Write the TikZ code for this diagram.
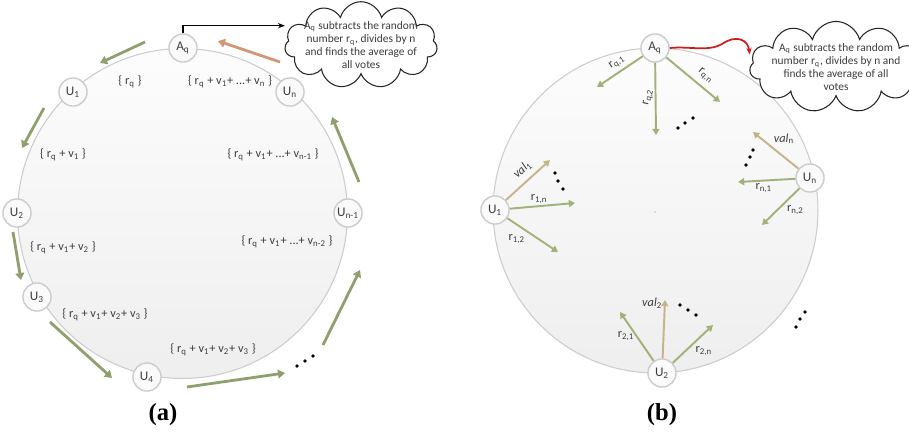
\documentclass[tikz,border=0pt]{standalone}
\usepackage{fontspec}
\setmainfont{Carlito}
\newfontfamily\capfont{Liberation Serif}
\usetikzlibrary{arrows.meta,shapes.symbols}
\definecolor{ringgreen}{RGB}{143,160,110}
\definecolor{sharegreen}{RGB}{160,178,122}
\definecolor{votetan}{RGB}{196,180,138}
\definecolor{backsalmon}{RGB}{212,150,118}
\definecolor{textgray}{RGB}{60,60,60}
\definecolor{wavered}{RGB}{205,30,30}
\tikzset{
  party node/.style={
    circle, draw=gray!40, line width=0.8pt, fill=gray!4,
    text=textgray, minimum size=16pt, inner sep=0pt,
    font=\fontsize{7.5}{8}\selectfont
  },
  ring/.style={draw=gray!40, line width=0.6pt, top color=gray!2, bottom color=gray!13},
  sum label/.style={text=textgray, inner sep=1pt, font=\fontsize{7}{8}\selectfont},
  share label/.style={text=textgray, inner sep=1pt, font=\fontsize{7}{8}\selectfont},
  note cloud/.style={
    cloud, cloud puffs=11, cloud ignores aspect, draw=black!85, line width=0.6pt,
    fill=white, text=textgray, align=center, inner xsep=-3pt, inner ysep=-2pt,
    font=\fontsize{6.5}{7.5}\selectfont
  },
  pass arrow/.style={-{Triangle[length=4pt,width=5pt]}, line width=1.6pt, ringgreen},
  share arrow/.style={-{Triangle[length=3.5pt,width=4pt]}, line width=1.1pt, sharegreen},
  vote arrow/.style={share arrow, votetan},
  fig label/.style={font=\capfont\bfseries\fontsize{14}{16}\selectfont}
}

\begin{document}
\begin{tikzpicture}[x=0.02cm, y=-0.02cm]
  \useasboundingbox (0,0) rectangle (909,433);

  % (a) ring of voters
  \draw[ring] (182.5,213.5) circle[radius=3.3cm];
  \node[party node] (aqa) at (183,48) {A\textsubscript{q}};
  \node[party node] (u1a) at (73,92) {U\textsubscript{1}};
  \node[party node] (u2a) at (17,213) {U\textsubscript{2}};
  \node[party node] (u3a) at (37,297) {U\textsubscript{3}};
  \node[party node] (u4a) at (147,377) {U\textsubscript{4}};
  \node[party node] (unma) at (348,213) {U\textsubscript{n-1}};
  \node[party node] (una) at (290,92) {U\textsubscript{n}};
  \node[note cloud] (clouda) at (361,45)
    {A\textsubscript{q} subtracts the random\\number r\textsubscript{q}, divides by n\\and finds the average of\\all votes};

  \node[sum label] (sum0) at (130,82) {\{ r\textsubscript{q} \}};
  \node[sum label] (sum1) at (63,155) {\{ r\textsubscript{q} + v\textsubscript{1} \}};
  \node[sum label] (sum2) at (63,248) {\{ r\textsubscript{q} + v\textsubscript{1}+ v\textsubscript{2} \}};
  \node[sum label] (sum3) at (105,315) {\{ r\textsubscript{q} + v\textsubscript{1}+ v\textsubscript{2}+ v\textsubscript{3} \}};
  \node[sum label] (sum4) at (213,350) {\{ r\textsubscript{q} + v\textsubscript{1}+ v\textsubscript{2}+ v\textsubscript{3} \}};
  \node[sum label] (sumnm2) at (287,242) {\{ r\textsubscript{q} + v\textsubscript{1}+ ...+ v\textsubscript{n-2} \}};
  \node[sum label] (sumnm1) at (273,155) {\{ r\textsubscript{q} + v\textsubscript{1}+ ...+ v\textsubscript{n-1} \}};
  \node[sum label] (sumn) at (230,82) {\{ r\textsubscript{q} + v\textsubscript{1}+ ...+ v\textsubscript{n} \}};

  \draw[pass arrow] (145,42) -- (100,63);
  \draw[pass arrow] (44,108) -- (22,148);
  \draw[pass arrow] (13,232) -- (21,280);
  \draw[pass arrow] (50,322) -- (112,378);
  \draw[pass arrow] (187,387) -- (285,373);
  \draw[pass arrow] (323,345) -- (360,270);
  \draw[pass arrow] (359,182) -- (332,117);
  \draw[pass arrow, backsalmon] (280,62) -- (218,41);
  \foreach \p in {(297,366),(305,361),(313,356)}
    \fill \p circle (1.1pt);
  \draw[-{Stealth[length=4pt]}, line width=0.7pt] (aqa.north) |- ([yshift=11pt]clouda.west);

  \node[fig label] (capa) at (163,415) {(a)};

  % (b) shares sent to every voter
  \draw[ring] (655.5,210.5) circle[radius=3.25cm];
  \fill[gray!45] (655,212) circle (0.5pt);
  \node[party node] (aqb) at (655,48) {A\textsubscript{q}};
  \node[party node] (u1b) at (495,210) {U\textsubscript{1}};
  \node[party node] (unb) at (810,178) {U\textsubscript{n}};
  \node[party node] (u2b) at (662,373) {U\textsubscript{2}};
  \node[note cloud] (cloudb) at (836,67)
    {A\textsubscript{q} subtracts the random\\number r\textsubscript{q}, divides by n and\\finds the average of all\\votes};

  \draw[share arrow] (aqb) -- node[share label, sloped, above=1pt, pos=.45] {r\textsubscript{q,1}} ++(-58,39);
  \draw[share arrow] (aqb) -- node[share label, rotate=78, anchor=south, pos=.5] {r\textsubscript{q,2}} ++(1,87);
  \draw[share arrow] (aqb) -- node[share label, sloped, above=2pt, pos=.6] {r\textsubscript{q,n}} ++(65,54);

  \draw[vote arrow] (u1b) -- node[share label, sloped, above=2pt, pos=.55] {\textit{val}\textsubscript{1}} ++(55,-50);
  \draw[share arrow] (u1b) -- node[share label, above, pos=.45] {r\textsubscript{1,n}} ++(80,-7);
  \draw[share arrow] (u1b) -- node[share label, below left, pos=.4] {r\textsubscript{1,2}} ++(63,42);

  \draw[vote arrow] (unb) -- node[share label, above right, pos=.6] {\textit{val}\textsubscript{n}} ++(-57,-46);
  \draw[share arrow] (unb) -- node[share label, below, pos=.55] {r\textsubscript{n,1}} ++(-72,4);
  \draw[share arrow] (unb) -- node[share label, below right, pos=.4] {r\textsubscript{n,2}} ++(-48,47);

  \draw[vote arrow] (u2b) -- node[share label, left, pos=.95] {\textit{val}\textsubscript{2}} ++(3,-73);
  \draw[share arrow] (u2b) -- node[share label, left, pos=.5] {r\textsubscript{2,1}} ++(-42,-61);
  \draw[share arrow] (u2b) -- node[share label, below right, pos=.5] {r\textsubscript{2,n}} ++(51,-48);

  \foreach \p in {(678,128),(685,123),(693,118),
                  (555,173),(558,181),(563,189),
                  (753,150),(750,157),(746,165),
                  (680,305),(688,310),(696,315),
                  (805,312),(800,319),(796,327)}
    \fill \p circle (1.1pt);

  \draw[-{Stealth[length=4pt]}, line width=1pt, wavered] (aqb.east)
    .. controls (690,46) and (708,52) .. (722,44)
    .. controls (737,34) and (748,40) .. ([yshift=7pt]cloudb.west);

  \node[fig label] (capb) at (662,415) {(b)};
\end{tikzpicture}
\end{document}
